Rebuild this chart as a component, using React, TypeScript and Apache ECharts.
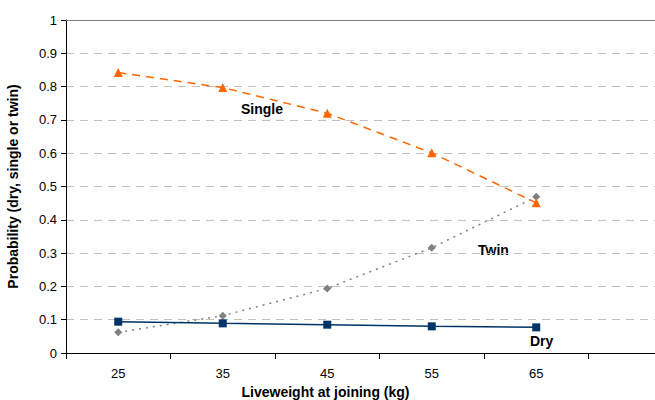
import React, { useEffect, useRef } from "react";
import * as echarts from "echarts";

const categories = ["25", "35", "45", "55", "65", ""];
const singleValues = [0.842, 0.797, 0.72, 0.601, 0.451];
const twinValues = [0.062, 0.112, 0.194, 0.316, 0.469];
const dryValues = [0.094, 0.089, 0.085, 0.08, 0.077];

export default function App() {
  const ref = useRef<HTMLDivElement>(null);
  useEffect(() => {
    if (!ref.current) return;
    const chart = echarts.init(ref.current, null, { renderer: "svg" });
    const font = "'Liberation Sans', Arial, sans-serif";
    chart.setOption({
      animation: false,
      textStyle: { fontFamily: font },
      grid: { left: 66, top: 20, width: 627, height: 333, containLabel: false, outerBoundsMode: "none" },
      xAxis: {
        type: "category",
        data: categories,
        boundaryGap: true,
        name: "Liveweight at joining (kg)",
        nameLocation: "middle",
        nameGap: 27,
        nameTextStyle: { fontWeight: "bold", fontSize: 14, color: "#000", fontFamily: font, padding: [0, 108, 0, 0] },
        axisLine: { lineStyle: { color: "#000", width: 1 } },
        axisTick: { show: true, length: 6, alignWithLabel: false, lineStyle: { color: "#000" } },
        axisLabel: { color: "#000", fontSize: 13, margin: 14, fontFamily: font },
        splitLine: { show: false },
      },
      yAxis: {
        type: "value",
        min: 0,
        max: 1,
        interval: 0.1,
        name: "Probability (dry, single or twin)",
        nameLocation: "middle",
        nameGap: 46,
        nameRotate: 90,
        nameTextStyle: { fontWeight: "bold", fontSize: 14, color: "#000", fontFamily: font },
        axisLine: { show: true, lineStyle: { color: "#000", width: 1 } },
        axisTick: { show: true, length: 5, lineStyle: { color: "#000" } },
        axisLabel: {
          color: "#000",
          fontSize: 13,
          margin: 9,
          fontFamily: font,
          formatter: (v: number) => String(Math.round(v * 10) / 10),
        },
        splitLine: { show: true, lineStyle: { color: "#c0c0c0", type: [8, 6], width: 1 } },
      },
      series: [
        {
          name: "Single",
          type: "line",
          data: singleValues,
          symbol: "triangle",
          symbolSize: 9,
          itemStyle: { color: "#ff6600" },
          lineStyle: { color: "#ff6600", width: 1.5, type: [8, 6] },
          markLine: {
            silent: true,
            symbol: "none",
            label: { show: false },
            lineStyle: { color: "#808080", type: "solid", width: 1 },
            data: [{ yAxis: 1 }],
          },
          z: 3,
        },
        {
          name: "Twin",
          type: "line",
          data: twinValues,
          symbol: "diamond",
          symbolSize: 8,
          itemStyle: { color: "#808080" },
          lineStyle: { color: "#808080", width: 1.5, type: [2, 5] },
          z: 2,
        },
        {
          name: "Dry",
          type: "line",
          data: dryValues,
          symbol: "rect",
          symbolSize: 8,
          itemStyle: { color: "#003366" },
          lineStyle: { color: "#003366", width: 1.5, type: "solid" },
          z: 4,
        },
      ],
      graphic: [
        { type: "text", left: 241, top: 102, style: { text: "Single", font: `bold 14px ${font}`, fill: "#000" } },
        { type: "text", left: 478, top: 243, style: { text: "Twin", font: `bold 14px ${font}`, fill: "#000" } },
        { type: "text", left: 530, top: 334, style: { text: "Dry", font: `bold 14px ${font}`, fill: "#000" } },
      ],
    });
    return () => chart.dispose();
  }, []);
  return (
    <div
      ref={ref}
      style={{ position: "fixed", left: 0, top: 0, width: 655, height: 400, background: "#fff" }}
    />
  );
}
